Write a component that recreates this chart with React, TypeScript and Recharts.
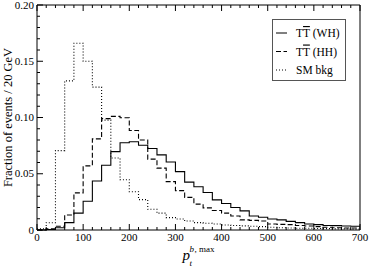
import { ComposedChart, Line, XAxis, YAxis, Legend } from 'recharts';

// bin left edges, 20 GeV wide, 0..680
const binEdges = [0, 20, 40, 60, 80, 100, 120, 140, 160, 180, 200, 220, 240, 260, 280, 300, 320, 340,
  360, 380, 400, 420, 440, 460, 480, 500, 520, 540, 560, 580, 600, 620, 640, 660, 680];

const whValues = [0, 0.0005, 0.002, 0.0066, 0.015, 0.0256, 0.0435, 0.0575, 0.0697, 0.0775, 0.0784, 0.0754,
  0.0724, 0.0668, 0.0605, 0.0519, 0.0426, 0.0384, 0.0334, 0.0268, 0.0235, 0.020, 0.017, 0.0125, 0.0113,
  0.0098, 0.009, 0.0077, 0.0066, 0.0054, 0.0048, 0.004, 0.0039, 0.0036, 0.0033];

const hhValues = [0, 0.001, 0.0033, 0.0134, 0.033, 0.057, 0.081, 0.099, 0.101, 0.0998, 0.0885, 0.080,
  0.063, 0.055, 0.043, 0.035, 0.029, 0.023, 0.0197, 0.0173, 0.015, 0.0125, 0.009, 0.0086, 0.008,
  0.0054, 0.005, 0.0048, 0.004, 0.0036, 0.003, 0.0024, 0.002, 0.0018, 0.0018];

const smValues = [0.001, 0.0065, 0.0706, 0.1326, 0.166, 0.150, 0.127, 0.0977, 0.064, 0.0447, 0.034, 0.027,
  0.0185, 0.015, 0.011, 0.0098, 0.008, 0.0066, 0.006, 0.0054, 0.0045, 0.004, 0.0037, 0.0033, 0.003,
  0.0024, 0.002, 0.0018, 0.0015, 0.0015, 0.0013, 0.0012, 0.001, 0.001, 0.0008];

const xMajorTicks = [0, 100, 200, 300, 400, 500, 600, 700];
const yMajorTicks = [0, 0.05, 0.10, 0.15, 0.20];
const legendLabels = ['(WH)', '(HH)', 'SM bkg'];

const serif = { fontFamily: "'Liberation Serif', 'DejaVu Serif', serif" };

// step histogram: one point per bin edge, last value repeated at the upper edge
const data = binEdges.map((x, i) => ({ x, wh: whValues[i], hh: hhValues[i], sm: smValues[i] }));
data.push({ x: 700, wh: whValues[34], hh: hhValues[34], sm: smValues[34] });

const xTicks: number[] = [];
for (let v = 0; v <= 700; v += 20) xTicks.push(v);
const yTicks: number[] = [];
for (let i = 0; i <= 20; i++) yTicks.push(Math.round(i * 100) / 10000);

const isMajorX = (v: number) => xMajorTicks.includes(v);
const isMajorY = (v: number) => yMajorTicks.some((t) => Math.abs(t - v) < 1e-6);

const BottomTick = ({ x, y, payload }: any) => {
  const major = isMajorX(payload.value);
  return (
    <g>
      <line x1={x} x2={x} y1={y} y2={y - (major ? 6 : 3)} stroke="#000" />
      {major && (
        <text x={x} y={y + 10.5} textAnchor="middle" fontSize={11} style={serif} fill="#000">
          {payload.value}
        </text>
      )}
    </g>
  );
};

const TopTick = ({ x, y, payload }: any) => {
  const major = isMajorX(payload.value);
  return <line x1={x} x2={x} y1={y} y2={y + (major ? 6 : 3)} stroke="#000" />;
};

const LeftTick = ({ x, y, payload }: any) => {
  const major = isMajorY(payload.value);
  const label = payload.value === 0 ? '0' : payload.value.toFixed(2);
  return (
    <g>
      <line x1={x} x2={x + (major ? 6 : 3)} y1={y} y2={y} stroke="#000" />
      {major && (
        <text x={x - 3} y={y + 3.5} textAnchor="end" fontSize={11} style={serif} fill="#000">
          {label}
        </text>
      )}
    </g>
  );
};

const RightTick = ({ x, y, payload }: any) => {
  const major = isMajorY(payload.value);
  return <line x1={x} x2={x - (major ? 6 : 3)} y1={y} y2={y} stroke="#000" />;
};

const XTitle = ({ viewBox }: any) => {
  const cx = viewBox.x + viewBox.width / 2;
  const top = viewBox.y;
  return (
    <g style={serif} fill="#000">
      <text x={cx - 16} y={top + 30} fontSize={15} fontStyle="italic">p</text>
      <text x={cx - 9} y={top + 22} fontSize={9} fontStyle="italic">b</text>
      <text x={cx - 4} y={top + 22} fontSize={9}>, max</text>
      <text x={cx - 9} y={top + 36} fontSize={9} fontStyle="italic">t</text>
    </g>
  );
};

const YTitle = ({ viewBox }: any) => {
  const cy = viewBox.y + viewBox.height / 2;
  return (
    <text x={8} y={cy} transform={`rotate(-90, 8, ${cy})`} textAnchor="middle" dominantBaseline="central"
      fontSize={12.5} style={serif} fill="#000">
      Fraction of events / 20 GeV
    </text>
  );
};

const dashes = [undefined, '5 2.5', '1 2'];

const LegendBox = () => (
  <svg width={74} height={62} style={{ display: 'block' }}>
    <rect x={0.5} y={0.5} width={73} height={61} fill="#fff" stroke="#555" />
    {legendLabels.map((lab, i) => {
      const cy = 14 + i * 18.5;
      return (
        <g key={lab}>
          <line x1={4} x2={15} y1={cy} y2={cy} stroke="#000" strokeWidth={1} strokeDasharray={dashes[i]} />
          <text x={24} y={cy + 4} fontSize={11.5} style={serif} fill="#000">
            {i < 2 ? (
              <>
                T<tspan style={{ textDecoration: 'overline' }}>T</tspan> {lab}
              </>
            ) : (
              lab
            )}
          </text>
        </g>
      );
    })}
  </svg>
);

export default function App() {
  return (
    <div style={{ position: 'absolute', left: 0, top: 0 }}>
      <ComposedChart width={370} height={267} data={data} margin={{ top: 0, right: 0, bottom: 0, left: 0 }}>
        <XAxis xAxisId="b" dataKey="x" type="number" domain={[0, 700]} ticks={xTicks} interval={0}
          height={37} tickSize={0} tickMargin={0} tickLine={false} stroke="#000" tick={<BottomTick />}
          label={{ content: <XTitle /> }} />
        <XAxis xAxisId="t" orientation="top" dataKey="x" type="number" domain={[0, 700]} ticks={xTicks}
          interval={0} height={5} tickSize={0} tickMargin={0} tickLine={false} stroke="#000" tick={<TopTick />} />
        <YAxis yAxisId="l" type="number" domain={[0, 0.2]} ticks={yTicks} interval={0} width={37}
          tickSize={0} tickMargin={0} tickLine={false} stroke="#000" tick={<LeftTick />}
          label={{ content: <YTitle /> }} />
        <YAxis yAxisId="r" orientation="right" type="number" domain={[0, 0.2]} ticks={yTicks} interval={0}
          width={10} tickSize={0} tickMargin={0} tickLine={false} stroke="#000" tick={<RightTick />} />
        <Legend layout="vertical" align="center" verticalAlign="middle" content={<LegendBox />}
          wrapperStyle={{ position: 'absolute', left: 272, top: 19, width: 74, height: 62 }} />
        <Line xAxisId="b" yAxisId="l" dataKey="sm" type="stepAfter" stroke="#000" strokeWidth={1.1}
          strokeDasharray="1 2" dot={false} isAnimationActive={false} />
        <Line xAxisId="b" yAxisId="l" dataKey="hh" type="stepAfter" stroke="#000" strokeWidth={1.1}
          strokeDasharray="5 2.5" dot={false} isAnimationActive={false} />
        <Line xAxisId="b" yAxisId="l" dataKey="wh" type="stepAfter" stroke="#000" strokeWidth={1.1}
          dot={false} isAnimationActive={false} />
      </ComposedChart>
    </div>
  );
}
